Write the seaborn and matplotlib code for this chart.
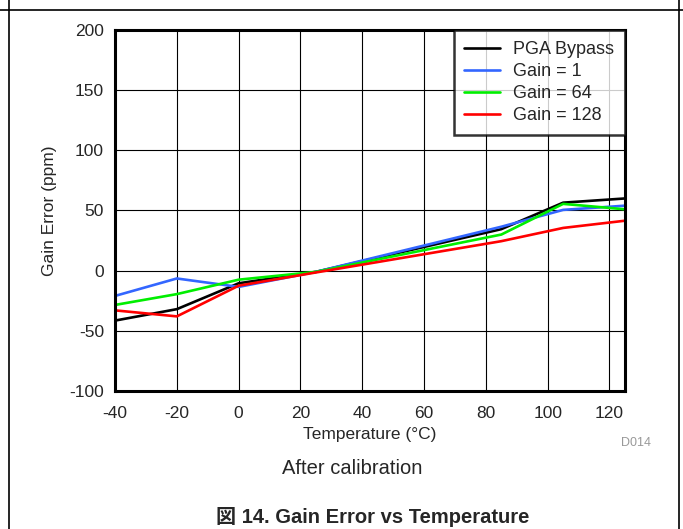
"""Gain error vs temperature, after calibration."""
import numpy as np
import pandas as pd
import matplotlib
matplotlib.use("Agg")
import matplotlib.pyplot as plt
import seaborn as sns

# data
temps = [-40, -20, 0, 25, 85, 105, 125]
pga_bypass = [-41.5, -32, -10.5, -1, 34.5, 56.5, 60]
gain_1 = [-21, -6.5, -13.5, -1, 36.5, 50.5, 54]
gain_64 = [-28.5, -19.5, -7.5, -1, 30, 55.5, 51]
gain_128 = [-33, -38, -12.5, -1.5, 24.5, 35.5, 41.5]

series_names = ["PGA Bypass", "Gain = 1", "Gain = 64", "Gain = 128"]
series_colors = ["#000000", "#3366ff", "#00ee00", "#ff0000"]
x_ticks = [-40, -20, 0, 20, 40, 60, 80, 100, 120]
y_ticks = [-100, -50, 0, 50, 100, 150, 200]


def setup_style():
    sns.set_style("white")
    plt.rcParams.update({
        "font.family": ["Liberation Sans", "Noto Sans CJK JP", "DejaVu Sans"],
        "font.size": 12,
        "axes.linewidth": 2.2,
        "axes.unicode_minus": False,
    })


def plot_gain_error():
    setup_style()
    df = pd.DataFrame({
        "Temperature": temps * 4,
        "Gain Error": pga_bypass + gain_1 + gain_64 + gain_128,
        "Series": np.repeat(series_names, len(temps)),
    })

    fig = plt.figure(figsize=(6.83, 5.29), dpi=100)
    ax = fig.add_axes([0.1684, 0.2609, 0.915 - 0.1684, 0.9433 - 0.2609])

    sns.lineplot(
        data=df, x="Temperature", y="Gain Error", hue="Series",
        hue_order=series_names, palette=series_colors,
        linewidth=1.9, ax=ax, sort=False,
    )

    ax.set_xlim(-40, 125)
    ax.set_ylim(-100, 200)
    ax.set_xticks(x_ticks)
    ax.set_yticks(y_ticks)
    ax.grid(True, color="black", linewidth=0.8)
    ax.set_axisbelow(True)
    ax.tick_params(axis="x", length=0, pad=11, labelsize=12.5)
    ax.tick_params(axis="y", length=0, pad=8, labelsize=12.5)
    for s in ax.spines.values():
        s.set_color("black")
    ax.set_xlabel("Temperature (°C)", fontsize=12.5, labelpad=4)
    ax.set_ylabel("Gain Error (ppm)", fontsize=12.5, labelpad=9)

    leg = ax.legend(
        loc="upper right", bbox_to_anchor=(1, 1), borderaxespad=0,
        fontsize=13, handlelength=2.0, labelspacing=0.28, borderpad=0.6,
        handletextpad=0.7, frameon=True, fancybox=False, edgecolor="black",
    )
    leg.get_frame().set_linewidth(1.8)
    leg.set_zorder(5)

    fig.text(636 / 683, 1 - 443 / 529, "D014", fontsize=9, color="#999999",
             ha="center", va="center")
    fig.text(352 / 683, 1 - 468 / 529, "After calibration", fontsize=14.5,
             ha="center", va="center")
    fig.text(373 / 683, 1 - 517 / 529, "図 14. Gain Error vs Temperature",
             fontsize=14.5, fontweight="bold", ha="center", va="center")

    # page frame around the figure
    fig.add_artist(plt.Line2D([0, 1], [1 - 10 / 529] * 2, color="black", lw=1.2))
    fig.add_artist(plt.Line2D([9 / 683] * 2, [0, 1], color="black", lw=1.2))
    fig.add_artist(plt.Line2D([679 / 683] * 2, [0, 1], color="black", lw=1.2))

    fig.savefig("out.png", dpi=100)
    plt.close(fig)


if __name__ == "__main__":
    plot_gain_error()
